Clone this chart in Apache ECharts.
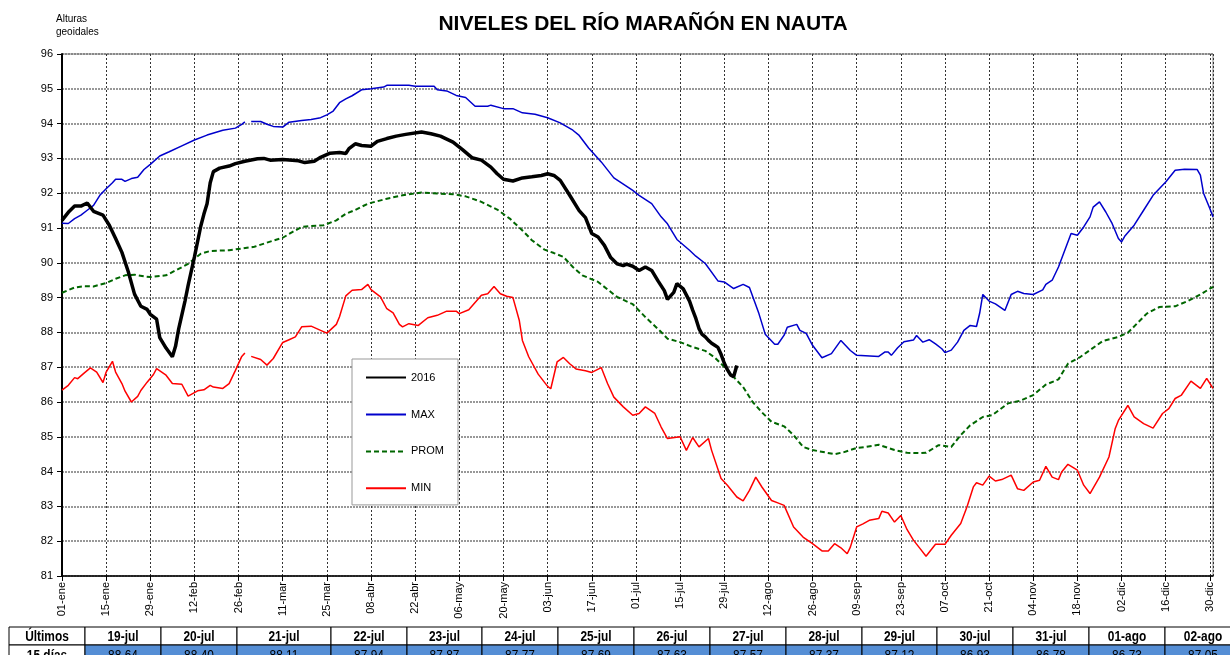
<!DOCTYPE html>
<html>
<head>
<meta charset="utf-8">
<script src="https://cdn.jsdelivr.net/npm/echarts@6/dist/echarts.min.js"></script>
<style>
html, body { margin: 0; padding: 0; background: #fff; }
#container { width: 1230px; height: 655px; }
</style>
</head>
<body>
<div id="container"></div>
<script>
// x = day of year (0 = 01-ene, 2016 is a leap year), y = altura geoidal (m)
let tickLabels = ['01-ene','15-ene','29-ene','12-feb','26-feb','11-mar','25-mar','08-abr','22-abr',
    '06-may','20-may','03-jun','17-jun','01-jul','15-jul','29-jul','12-ago','26-ago','09-sep',
    '23-sep','07-oct','21-oct','04-nov','18-nov','02-dic','16-dic','30-dic'];

// last 15 days, shown in the table and used as the end of the 2016 line
let tableDates = ['19-jul','20-jul','21-jul','22-jul','23-jul','24-jul','25-jul','26-jul',
    '27-jul','28-jul','29-jul','30-jul','31-jul','01-ago','02-ago'];
let tableValues = [88.64, 88.40, 88.11, 87.94, 87.87, 87.77, 87.69, 87.63,
    87.57, 87.37, 87.12, 86.93, 86.78, 86.73, 87.05];
let tableFirstDay = 200;

let s2016 = [[0,91.22],[2,91.45],[4,91.63],[6,91.63],[8,91.72],[10,91.48],[13,91.37],[15,91.08],
    [17,90.7],[19,90.3],[21,89.75],[23,89.1],[25,88.75],[27,88.66],[28,88.52],[30,88.38],[31,87.85],
    [33,87.55],[35,87.3],[36,87.6],[37,88.1],[39,88.9],[40,89.35],[42,90.17],[44,91.05],[45,91.4],
    [46,91.7],[47,92.3],[48,92.62],[50,92.72],[53,92.78],[55,92.85],[58,92.92],[62,92.99],[64,93.0],
    [66,92.95],[70,92.97],[75,92.93],[77,92.88],[80,92.92],[82,93.03],[85,93.15],[88,93.17],[90,93.14],
    [91,93.28],[93,93.42],[95,93.37],[98,93.35],[100,93.49],[103,93.57],[106,93.64],[109,93.69],
    [114,93.76],[117,93.71],[120,93.64],[124,93.47],[127,93.25],[130,93.02],[133,92.95],[136,92.75],
    [138,92.56],[140,92.4],[143,92.35],[146,92.44],[149,92.47],[152,92.51],[154,92.56],[156,92.51],
    [158,92.37],[161,91.94],[164,91.5],[166,91.3],[168,90.84],[170,90.74],[172,90.5],[174,90.15],
    [176,89.97],[178,89.92],[179,89.96],[181,89.9],[183,89.78],[185,89.88],[187,89.78],[189,89.48],
    [191,89.2],[192,88.95],[194,89.15],[195,89.4],[197,89.25],[199,88.9]];

let sMax = [[0,91.14],[2,91.13],[4,91.27],[6,91.37],[8,91.51],[10,91.65],[12,91.94],[14,92.13],
    [16,92.3],[17,92.4],[19,92.4],[20,92.34],[22,92.42],[24,92.46],[26,92.68],[28,92.83],[31,93.07],
    [34,93.19],[38,93.36],[42,93.53],[46,93.67],[51,93.81],[55,93.87],[57,93.98],[58,94.05],[59,null],
    [60,94.06],[63,94.06],[65,93.98],[67,93.92],[70,93.9],[72,94.04],[76,94.09],[79,94.12],[82,94.17],
    [84,94.25],[86,94.36],[88,94.6],[90,94.71],[92,94.8],[95,94.97],[98,95.0],[102,95.05],[103,95.1],
    [106,95.1],[110,95.1],[112,95.07],[118,95.07],[119,94.97],[122,94.94],[125,94.81],[128,94.75],
    [131,94.5],[135,94.5],[136,94.53],[140,94.43],[143,94.43],[146,94.31],[150,94.27],[154,94.17],
    [158,94.02],[162,93.81],[164,93.66],[167,93.3],[171,92.9],[175,92.44],[181,92.08],[183,91.94],
    [187,91.7],[190,91.32],[192,91.12],[195,90.67],[199,90.36],[201,90.19],[204,89.98],[208,89.48],
    [210,89.45],[213,89.26],[216,89.38],[218,89.29],[221,88.54],[223,87.95],[226,87.66],[227,87.66],
    [229,87.92],[230,88.15],[233,88.23],[234,88.06],[236,87.97],[238,87.63],[241,87.27],[244,87.39],
    [247,87.77],[250,87.48],[252,87.34],[259,87.31],[261,87.44],[262,87.44],[263,87.34],[265,87.56],
    [267,87.73],[270,87.78],[271,87.91],[273,87.72],[275,87.79],[277,87.67],[279,87.53],[280,87.42],
    [282,87.49],[284,87.72],[286,88.06],[288,88.2],[290,88.17],[291,88.55],[292,89.09],[294,88.9],
    [296,88.82],[299,88.63],[301,89.09],[303,89.18],[305,89.12],[308,89.09],[311,89.22],[312,89.38],
    [314,89.5],[316,89.88],[318,90.36],[320,90.84],[322,90.79],[324,91.03],[326,91.32],[327,91.6],
    [329,91.75],[331,91.46],[333,91.13],[335,90.7],[336,90.6],[337,90.76],[340,91.08],[343,91.51],
    [346,91.94],[350,92.32],[353,92.66],[356,92.69],[360,92.68],[361,92.52],[362,92.0],[364,91.56],
    [365,91.32]];

let sProm = [[0,89.14],[4,89.29],[7,89.33],[10,89.32],[14,89.42],[17,89.54],[20,89.64],[23,89.66],
    [26,89.61],[28,89.59],[33,89.64],[36,89.78],[40,89.97],[44,90.26],[47,90.34],[53,90.36],[57,90.41],
    [61,90.46],[65,90.58],[70,90.72],[73,90.88],[76,91.03],[79,91.06],[83,91.08],[87,91.22],[90,91.41],
    [93,91.52],[97,91.7],[103,91.84],[108,91.94],[114,92.02],[119,91.99],[124,91.97],[128,91.91],
    [133,91.75],[138,91.53],[142,91.27],[146,90.93],[149,90.65],[153,90.38],[156,90.28],[159,90.17],
    [162,89.88],[165,89.64],[170,89.45],[176,89.02],[181,88.81],[185,88.44],[190,88.01],[192,87.82],
    [196,87.72],[200,87.58],[204,87.47],[207,87.28],[210,87.01],[213,86.72],[216,86.43],[219,86.0],
    [222,85.7],[225,85.43],[229,85.3],[232,85.05],[235,84.71],[238,84.62],[245,84.5],[248,84.56],
    [252,84.68],[255,84.71],[259,84.77],[264,84.62],[268,84.54],[272,84.53],[274,84.54],[278,84.76],
    [282,84.71],[285,85.05],[288,85.33],[292,85.57],[295,85.62],[300,85.96],[304,86.04],[308,86.2],
    [312,86.5],[316,86.65],[319,87.1],[323,87.3],[330,87.75],[335,87.87],[338,87.99],[344,88.54],
    [348,88.73],[353,88.75],[357,88.9],[361,89.09],[365,89.31]];

let sMin = [[0,86.34],[2,86.48],[4,86.7],[5,86.67],[7,86.83],[9,86.98],[11,86.86],[13,86.56],[14,86.86],
    [16,87.17],[17,86.86],[19,86.53],[20,86.31],[22,86.0],[24,86.16],[25,86.33],[27,86.57],[29,86.79],
    [30,86.96],[33,86.77],[35,86.53],[38,86.51],[40,86.17],[43,86.32],[45,86.35],[47,86.48],[48,86.43],
    [51,86.39],[53,86.53],[55,86.91],[57,87.31],[58,87.41],[59,null],[60,87.31],[63,87.22],[65,87.06],
    [67,87.25],[70,87.71],[72,87.79],[74,87.87],[76,88.16],[79,88.18],[82,88.06],[84,87.98],[87,88.23],
    [88,88.45],[90,89.05],[92,89.21],[95,89.23],[97,89.38],[98,89.23],[101,89.02],[103,88.68],
    [105,88.56],[107,88.23],[108,88.16],[110,88.25],[113,88.2],[116,88.42],[119,88.49],[122,88.61],
    [125,88.61],[126,88.54],[129,88.65],[133,89.07],[135,89.11],[137,89.32],[139,89.11],[141,89.04],
    [143,89.0],[145,88.35],[146,87.77],[148,87.3],[151,86.8],[154,86.45],[155,86.38],[157,87.15],
    [159,87.28],[161,87.1],[163,86.95],[166,86.9],[168,86.85],[171,86.99],[173,86.53],[175,86.14],
    [178,85.86],[181,85.62],[183,85.67],[185,85.86],[188,85.67],[190,85.28],[192,84.95],[196,85.0],
    [198,84.61],[200,84.98],[202,84.71],[205,84.95],[206,84.61],[209,83.8],[211,83.61],[214,83.27],
    [216,83.16],[218,83.46],[220,83.84],[222,83.55],[225,83.17],[227,83.1],[229,83.03],[232,82.41],
    [235,82.12],[238,81.93],[241,81.72],[243,81.72],[245,81.93],[247,81.81],[249,81.64],[250,81.83],
    [252,82.41],[254,82.5],[256,82.6],[259,82.65],[260,82.86],[262,82.81],[264,82.55],[266,82.74],
    [268,82.33],[270,82.03],[272,81.8],[274,81.57],[277,81.91],[280,81.91],[282,82.17],[285,82.51],
    [287,82.99],[289,83.56],[290,83.68],[292,83.61],[294,83.87],[296,83.73],[298,83.77],[301,83.9],
    [303,83.51],[305,83.46],[308,83.7],[310,83.75],[312,84.15],[314,83.84],[316,83.77],[317,83.99],
    [319,84.21],[322,84.04],[324,83.61],[326,83.37],[329,83.84],[332,84.42],[334,85.24],[335,85.47],
    [338,85.9],[340,85.57],[343,85.38],[346,85.25],[349,85.67],[351,85.81],[353,86.1],[355,86.2],
    [358,86.6],[361,86.39],[363,86.68],[365,86.39]];

// append the table days to the 2016 line
tableValues.forEach((v, i) => s2016.push([tableFirstDay + i, v]));

const FONT = '"Liberation Sans", Arial, sans-serif';
const NARROW = '"Liberation Sans Narrow", "Arial Narrow", "Liberation Sans", Arial, sans-serif';

// table under the chart (column edges in px)
let colEdges = [9, 85, 161, 237, 331, 407, 482, 558, 634, 710, 786, 862, 937, 1013, 1089, 1165, 1241];
let rowTop = 627, rowH = 18, row2H = 20;
let tableEls = [];
let headCells = ['Últimos'].concat(tableDates);
let valCells = ['15 días'].concat(tableValues.map(v => v.toFixed(2)));
headCells.forEach((t, i) => {
    let x = colEdges[i], w = colEdges[i + 1] - x;
    tableEls.push({type: 'rect', shape: {x: x, y: rowTop, width: w, height: rowH},
        style: {fill: '#fff', stroke: '#000', lineWidth: 1}});
    tableEls.push({type: 'rect', shape: {x: x, y: rowTop + rowH, width: w, height: row2H},
        style: {fill: i === 0 ? '#fff' : '#558ed5', stroke: '#000', lineWidth: 1}});
    tableEls.push({type: 'text', x: x + w / 2, y: rowTop + rowH / 2 + 1, scaleX: 0.85,
        style: {text: t, fill: '#000', font: 'bold 14px ' + NARROW, textAlign: 'center', textVerticalAlign: 'middle'}});
    tableEls.push({type: 'text', x: x + w / 2, y: rowTop + rowH + row2H / 2 + 1, scaleX: 0.85,
        style: {text: valCells[i], fill: '#000', font: (i === 0 ? 'bold ' : '') + '14px ' + NARROW,
            textAlign: 'center', textVerticalAlign: 'middle'}});
});

let dom = document.getElementById('container');
let chart = echarts.init(dom);

chart.setOption({
    animation: false,
    backgroundColor: '#fff',
    title: {
        text: 'NIVELES DEL RÍO MARAÑÓN EN NAUTA',
        left: 643,
        textAlign: 'center',
        top: 14,
        padding: 0,
        textStyle: {fontFamily: FONT, fontSize: 21, fontWeight: 'bold', color: '#000'}
    },
    grid: {
        left: 62, right: 17, top: 54, bottom: 79,
        show: true, borderColor: '#808080', borderWidth: 1
    },
    legend: {
        data: ['2016', 'MAX', 'PROM', 'MIN'],
        orient: 'vertical',
        left: 352, top: 359,
        padding: [13, 14, 11, 13],
        itemGap: 25.7,
        itemWidth: 40, itemHeight: 14,
        backgroundColor: '#fff',
        borderColor: '#999', borderWidth: 1,
        itemStyle: {opacity: 0},
        textStyle: {fontFamily: FONT, fontSize: 11, color: '#000'}
    },
    xAxis: {
        type: 'value',
        min: 0, max: 365, interval: 14,
        axisLine: {lineStyle: {color: '#000', width: 1.5}},
        axisTick: {show: true, length: 5, lineStyle: {color: '#000'}},
        axisLabel: {
            rotate: 90, fontFamily: FONT, fontSize: 11, color: '#000', margin: 6,
            showMaxLabel: false,
            formatter: v => (v % 14 === 0 ? tickLabels[v / 14] : '')
        },
        splitLine: {show: true, lineStyle: {color: '#333', width: 1, type: [2, 2]}}
    },
    yAxis: {
        type: 'value',
        min: 81, max: 96, interval: 1,
        axisLine: {show: true, lineStyle: {color: '#000', width: 2}},
        axisTick: {show: true, length: 5, lineStyle: {color: '#000'}},
        axisLabel: {fontFamily: FONT, fontSize: 11, color: '#000', margin: 9},
        splitLine: {show: true, lineStyle: {color: '#777', width: 1.5, type: [2, 1]}}
    },
    graphic: [{
        type: 'text', left: 56, top: 13,
        style: {text: 'Alturas\ngeoidales', font: '10px ' + FONT, fill: '#000', lineHeight: 13}
    }].concat(tableEls),
    series: [{
        name: 'MIN', type: 'line', data: sMin, symbol: 'none', connectNulls: false,
        lineStyle: {color: '#ff0000', width: 1.5}, itemStyle: {color: '#ff0000'}
    }, {
        name: 'PROM', type: 'line', data: sProm, symbol: 'none',
        lineStyle: {color: '#006600', width: 2, type: [5, 3]}, itemStyle: {color: '#006600'}
    }, {
        name: 'MAX', type: 'line', data: sMax, symbol: 'none', connectNulls: false,
        lineStyle: {color: '#0000cc', width: 1.5}, itemStyle: {color: '#0000cc'}
    }, {
        name: '2016', type: 'line', data: s2016, symbol: 'none',
        lineStyle: {color: '#000', width: 3.5}, itemStyle: {color: '#000'}
    }]
});
</script>
</body>
</html>
